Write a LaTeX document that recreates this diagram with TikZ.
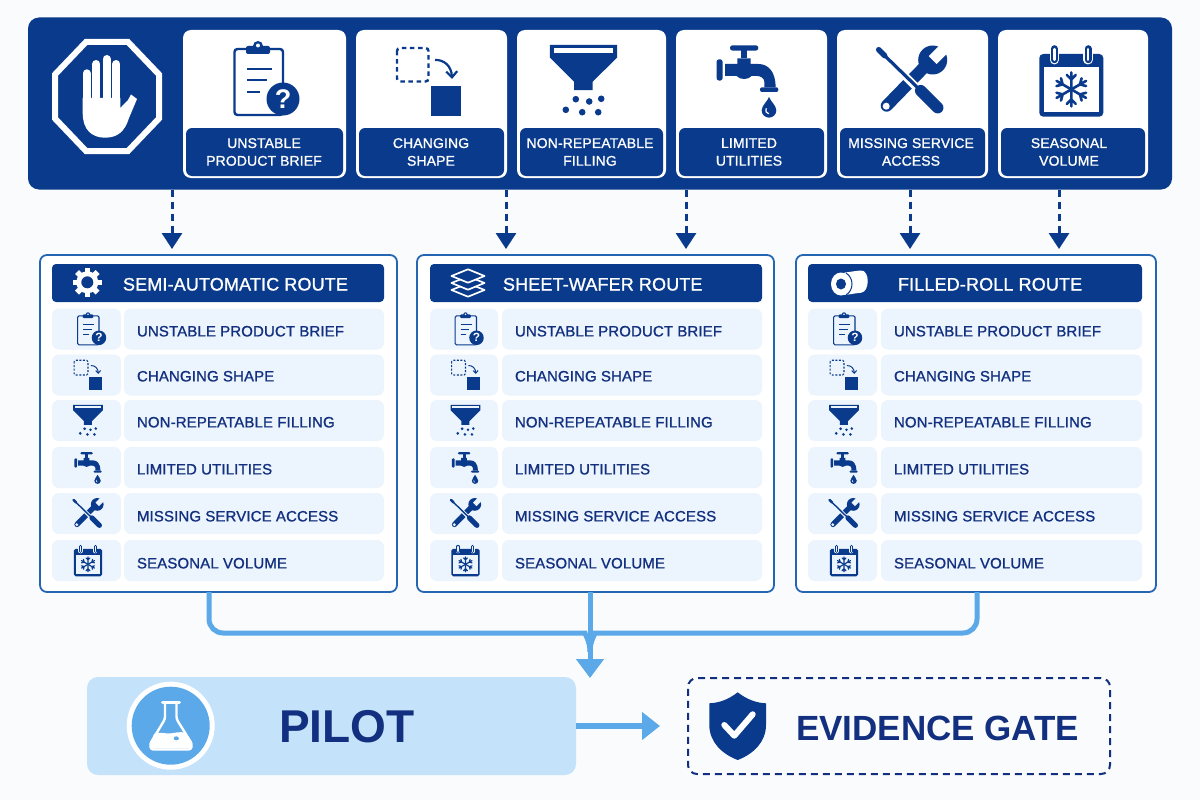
\documentclass[tikz,border=0pt]{standalone}
\usepackage{fontspec}
\setmainfont{Liberation Sans}
\newfontfamily\medfont[FakeBold=1.1,LetterSpace=0.8]{Liberation Sans}
\newfontfamily\boldfont{Liberation Sans Bold}
\usetikzlibrary{arrows.meta,calc}
\definecolor{navy}{HTML}{0A3A8B}
\definecolor{inktext}{HTML}{12307F}
\definecolor{sky}{HTML}{5BA9E8}
\definecolor{pale}{HTML}{C5E2FB}
\definecolor{cell}{HTML}{ECF4FD}
\definecolor{rim}{HTML}{2566B2}
\definecolor{paper}{HTML}{FAFBFC}
\tikzset{
  x=1pt,y=-1pt,
  box/.style={inner sep=0,outer sep=0},
  cardbox/.style={box,fill=white,rounded corners=8pt},
  cardlabel/.style={box,fill=navy,rounded corners=6pt},
  cardtext/.style={box,text=white,align=center,font=\medfont\fontsize{14}{17.7}\selectfont},
  routebox/.style={box,fill=white,draw=rim,line width=1.8pt,rounded corners=7pt},
  headbox/.style={box,fill=navy,rounded corners=4pt},
  cellbox/.style={box,fill=cell,rounded corners=7pt},
  headtext/.style={box,text=white,anchor=west,font=\medfont\fontsize{18}{18}\selectfont,text height=13pt,text depth=0pt},
  rowtext/.style={box,text=inktext,anchor=west,font=\medfont\fontsize{15}{15}\selectfont,text height=10.8pt,text depth=0pt},
  dropflow/.style={navy,line width=3pt,dash pattern=on 7pt off 5pt,-{Triangle[length=16pt,width=20pt]},shorten >=6pt},
  mergeflow/.style={sky,line width=5pt,rounded corners=14pt},
  pilotflow/.style={sky,line width=6pt,-{Triangle[length=18pt,width=27pt]}},
}
% ---- icons: centre x y, scale, background, name
\newcommand{\IconClip}[5]{\begin{scope}[shift={(#1,#2)},scale=#3]\def\ics{#3}
  \draw[navy,line width=\ics*2.4pt,rounded corners=\ics*3pt,fill=#4] (-31.5,-30) rectangle (17,36);
  \fill[navy,rounded corners=\ics*2pt] (-20,-33) rectangle (4,-25);
  \fill[navy] (-8,-33) circle[radius=5];
  \fill[#4] (-8,-33.5) circle[radius=2];
  \draw[navy,line width=\ics*2.2pt] (-19,-10)--(6,-10) (-19,1)--(1,1) (-19,13)--(-6,13);
  \fill[navy] (17,20) circle[radius=16.5];
  \node[box,text=white,transform shape,font=\boldfont\fontsize{27}{27}\selectfont] (#5) at (17,20) {?};
\end{scope}}
\newcommand{\IconShape}[5]{\begin{scope}[shift={(#1,#2)},scale=#3]\def\ics{#3}
  \pgfmathsetmacro\dn{\ics*4.5}\pgfmathsetmacro\dm{\ics*3.6}
  \draw[navy,line width=\ics*2.4pt,dash pattern=on \dn pt off \dm pt,rounded corners=\ics*3pt] (-31.5,-33.5) rectangle (0,0);
  \fill[navy] (2.5,4.5) rectangle (32.5,34.5);
  \draw[navy,line width=\ics*2.2pt,-{Straight Barb[length=\ics*6pt,width=\ics*11pt]}] (6.5,-21.5) .. controls (16,-22) and (23,-15) .. (23.5,-2.5);
\end{scope}}
\newcommand{\IconFunnel}[5]{\begin{scope}[shift={(#1,#2)},scale=#3]\def\ics{#3}
  \fill[navy] (-33.7,-35.7)--(33.7,-35.7)--(33.7,-23)--(9,1.3)--(9,9.7)--(-9.3,9.7)--(-9.3,1.3)--(-33.7,-23)--cycle;
  \fill[#4] (-29.7,-32) rectangle (29.7,-27.7);
  \foreach \px/\py in {-7.7/18.7,5.7/21,17.7/18.3,-17.7/29.3,-1.3/31.7,14.7/31.7}
    \fill[navy] (\px,\py) circle[radius=3.3];
\end{scope}}
\newcommand{\IconTap}[5]{\begin{scope}[shift={(#1,#2)},scale=#3]\def\ics{#3}
  \fill[navy,rounded corners=\ics*2.5pt] (-17.3,-35) rectangle (11,-29.7);
  \fill[navy] (-6,-31) rectangle (0,-22);
  \fill[navy,rounded corners=\ics*2.5pt] (-30.7,-21) rectangle (-24.7,0.3);
  \fill[navy] (-22.3,-16.3)--(-10,-16.3)--(-10,-22)--(3.3,-22)--(3.3,-16.3)--(11,-16.3)
    .. controls (21,-16.3) and (28.3,-8.7) .. (28.3,7)--(17,7)--(17,1.3)
    .. controls (17,-2) and (13.3,-4.3) .. (10,-4.3)--(4.3,-4.3)
    .. controls (1,-0.3) and (-7.3,-0.3) .. (-10.7,-4.3)--(-22.3,-4.3)--cycle;
  \fill[navy,rounded corners=\ics*2pt] (12.7,7) rectangle (31,11.7);
  \fill[navy] (21.7,16.5) .. controls (23,21) and (29,25) .. (29,30) .. controls (29,34) and (26,37.3) .. (21.7,37.3) .. controls (17.4,37.3) and (14.4,34) .. (14.4,30) .. controls (14.4,25) and (20.4,21) .. (21.7,16.5) -- cycle;
  \draw[#4,line width=\ics*1.2pt] (19,28) .. controls (18,31) and (19,33) .. (21.5,33.5);
\end{scope}}
\newcommand{\IconTools}[5]{\begin{scope}[shift={(#1,#2)},scale=#3]\def\ics{#3}
  \draw[navy,line width=\ics*12pt,line cap=round] (-25,25)--(12,-13);
  \fill[navy] (21,-20.7) circle[radius=14.5];
  \fill[#4] (17.1,-24.6)--(24.9,-16.8)--(39,-30.9)--(31.2,-38.7)--cycle;
  \fill[#4] (-25.5,25.5) circle[radius=3.5];
  \draw[#4,line width=\ics*8pt] (-20,-18)--(12,14);
  \draw[navy,line width=\ics*3.2pt] (-30,-28)--(8,9);
  \draw[navy,line width=\ics*5.5pt,line cap=round] (-33,-31)--(-27,-25);
  \draw[navy,line width=\ics*11.5pt,line cap=round] (9,10)--(26,27);
\end{scope}}
\newcommand{\IconCalendar}[5]{\begin{scope}[shift={(#1,#2)},scale=#3]\def\ics{#3}
  \fill[navy,rounded corners=\ics*4pt] (-32,-26.7) rectangle (32,36);
  \fill[#4] (-27.3,-13.3) rectangle (27.3,31);
  \foreach \rx in {-17,16.7}{
    \draw[#4,line width=\ics*9.5pt,line cap=round] (\rx,-31)--(\rx,-21);
    \draw[navy,line width=\ics*7pt,line cap=round] (\rx,-32)--(\rx,-21);
    \draw[#4,line width=\ics*2.6pt,line cap=round] (\rx,-31.5)--(\rx,-21);
  }
  \foreach \ang in {0,60,...,300}{
    \begin{scope}[shift={(0,8.7)},rotate=\ang]
      \draw[navy,line width=\ics*2.6pt,line cap=round] (0,0)--(0,-17) (-4.5,-14.5)--(0,-10)--(4.5,-14.5);
    \end{scope}
  }
\end{scope}}
\begin{document}
\begin{tikzpicture}
\useasboundingbox (0,0) rectangle (1200,800);
\fill[paper] (0,0) rectangle (1200,800);
% top band
\node[box,fill=navy,rounded corners=11pt,minimum width=1144pt,minimum height=172pt] (band) at (600,103.5) {};
% stop sign
\draw[white,line width=6pt,line join=miter] (86,42)--(128,42)--(159,74.5)--(159,118.5)--(128,151)--(86,151)--(55,118.5)--(55,74.5)--cycle;
\foreach \fx/\ft in {86.7/73.3,96.3/64,106.5/59,116.3/64}
  \draw[white,line width=8pt,line cap=round] (\fx,\ft)--(\fx,108);
\fill[white] (82.7,98)--(120.3,98)--(120.3,108)--(128,100)--(131,94.5)--(137,99)--(129,118) .. controls (125,131) and (118,137.7) .. (105,137.7) .. controls (92,137.7) and (82.7,130) .. (82.7,113)--cycle;
% cards
\foreach \nm/\ca/\cb/\tc/\txt in {
  a/183/346/264/{UNSTABLE\\PRODUCT BRIEF},
  b/356/507/431/{CHANGING\\SHAPE},
  c/517/666/590/{NON-REPEATABLE\\FILLING},
  d/676/827/749/{LIMITED\\UTILITIES},
  e/837/988/911/{MISSING SERVICE\\ACCESS},
  f/998/1148/1069/{SEASONAL\\VOLUME}}{
  \node[cardbox,minimum width={\cb-\ca},minimum height=148pt] (card\nm) at ({(\ca+\cb)/2},104) {};
  \node[cardlabel,minimum width={\cb-\ca-6},minimum height=48pt] (lab\nm) at ({(\ca+\cb)/2},152) {};
  \node[cardtext] (labt\nm) at (\tc,152) {\txt};
}
\IconClip{266}{79}{1}{white}{qtop}
\IconShape{428.5}{81.5}{1}{white}{}
\IconFunnel{583.5}{80.5}{1}{white}{}
\IconTap{747.3}{80.3}{1}{white}{}
\IconTools{911.7}{80.7}{1}{white}{}
\IconCalendar{1071.3}{80.7}{1}{white}{}
% route panels
\foreach \pid/\pl/\pe/\hl/\he/\ir/\tl/\ttl/\ttx in {
  1/40/397/52/384/121/124/SEMI-AUTOMATIC ROUTE/123,
  2/417/774/430/762/498/502/SHEET-WAFER ROUTE/503,
  3/796/1156/808/1142/877/881/FILLED-ROLL ROUTE/898}{
  \node[routebox,minimum width={\pe-\pl},minimum height=337pt] (route\pid) at ({(\pl+\pe)/2},423.5) {};
  \node[headbox,minimum width={\he-\hl},minimum height=38pt] (head\pid) at ({(\hl+\he)/2},283) {};
  \node[headtext] (title\pid) at (\ttx,284) {\ttl};
  \foreach \rn/\yc/\yt/\ic/\dx/\rt in {
    1/329/331/\IconClip/5/UNSTABLE PRODUCT BRIEF,
    2/375/376/\IconShape/1.5/CHANGING SHAPE,
    3/420.5/422/\IconFunnel/1.5/NON-REPEATABLE FILLING,
    4/467.5/469/\IconTap/1.5/LIMITED UTILITIES,
    5/513.5/516/\IconTools/1.5/MISSING SERVICE ACCESS,
    6/560.5/563/\IconCalendar/1.5/SEASONAL VOLUME}{
    \node[cellbox,minimum width={\ir-\hl},minimum height=41pt] (ic\pid\rn) at ({(\hl+\ir)/2},\yc) {};
    \node[cellbox,minimum width={\he-\tl},minimum height=41pt] (row\pid\rn) at ({(\tl+\he)/2},\yc) {};
    \node[rowtext] (rowt\pid\rn) at ({\tl+13},\yt) {\rt};
    \ic{{(\hl+\ir)/2+\dx}}{\yc}{0.44}{cell}{q\pid\rn}
  }
}
% header icons
\foreach \ang in {0,45,...,315}{
  \begin{scope}[shift={(87.3,282.3)},rotate=\ang]
    \fill[white] (-2.8,-14.5) rectangle (2.8,-9);
  \end{scope}
}
\fill[white] (87.3,282.3) circle[radius=11];
\fill[navy] (87.3,282.3) circle[radius=6];
\foreach \dy in {290,283,276}
  \draw[white,fill=navy,line width=1.7pt,line join=round] (451.5,\dy)--(468,\dy-6.7)--(484.5,\dy)--(468,\dy+6.7)--cycle;
\fill[white,rounded corners=3pt] (842,273)--(858,270.7) .. controls (870,270) and (870,292) .. (858,293)--(842,295.5)--cycle;
\fill[white] (841,284) ellipse[x radius=10,y radius=11.5];
\draw[navy,line width=1pt] (846,273) .. controls (854,278) and (854,290) .. (846,295);
\fill[navy] (841,284) ellipse[x radius=5,y radius=5.5];
% drop connectors
\foreach \cx/\rr in {172/1,506/2,686/2,910/3,1059/3}
  \draw[dropflow] (band.south -| \cx,0) -- (route\rr.north -| \cx,0);
% pilot and gate
\node[box,fill=pale,rounded corners=11pt,minimum width=489pt,minimum height=98pt] (pilot) at (331.5,726) {};
\node[box,draw=inktext,line width=2pt,dash pattern=on 7pt off 5pt,rounded corners=9pt,minimum width=422pt,minimum height=96pt] (gate) at (899,726) {};
% merge
\coordinate (mtip) at (590,678);
\coordinate (mjoin) at (590,652);
\draw[mergeflow] (route1.south -| 209,0) -- (209,633) -- (571,633) .. controls (584,633) and (590,640) .. (mjoin);
\draw[mergeflow] (route3.south -| 977,0) -- (977,633) -- (609,633) .. controls (596,633) and (590,640) .. (mjoin);
\draw[sky,line width=5pt,-{Triangle[length=19pt,width=27pt]}] (route2.south -| 590,0) -- (mtip);
\draw[pilotflow,shorten >=28pt] (pilot.east) -- (gate.west);
% flask
\fill[white] (170.7,725.7) circle[radius=44];
\fill[sky] (170.7,725.7) circle[radius=39];
\fill[white] (154,734)  .. controls (160,731) and (165,734) .. (170,733.5) .. controls (175,733) and (180,731) .. (186,733)--(191,745) .. controls (192,747.5) and (190,748.5) .. (188,748.5)--(153,748.5) .. controls (151,748.5) and (149.5,747.5) .. (150.5,745)--cycle;
\draw[white,line width=2.4pt,line join=round,rounded corners=2.5pt] (165,703)--(165,719)--(150,744)--(151,749.5)--(191,749.5)--(192,744)--(176.5,719)--(176.5,703);
\draw[white,line width=3pt,line cap=round] (162.5,702)--(179.5,702);
\fill[sky] (176.3,738.3) ellipse[x radius=2.6,y radius=2];
\node[box,text=inktext,anchor=west,font=\boldfont\fontsize{46}{46}\selectfont,text height=33pt,text depth=0pt] (pilottext) at (279,726) {PILOT};
% shield
\fill[navy] (737.7,692.3) .. controls (728,700) and (718,703) .. (709.3,703.3)--(709.3,725) .. controls (709.3,742) and (722,754) .. (737.7,760) .. controls (753.4,754) and (766,742) .. (766,725)--(766,703.3) .. controls (757.4,703) and (747.4,700) .. (737.7,692.3)--cycle;
\draw[white,line width=6pt,line cap=round,line join=round] (724.3,725)--(734.3,735.7)--(752.7,714.3);
\node[box,text=inktext,anchor=west,font=\boldfont\fontsize{35}{35}\selectfont,text height=25pt,text depth=0pt] (gatetext) at (796,728) {EVIDENCE GATE};
\end{tikzpicture}
\end{document}
